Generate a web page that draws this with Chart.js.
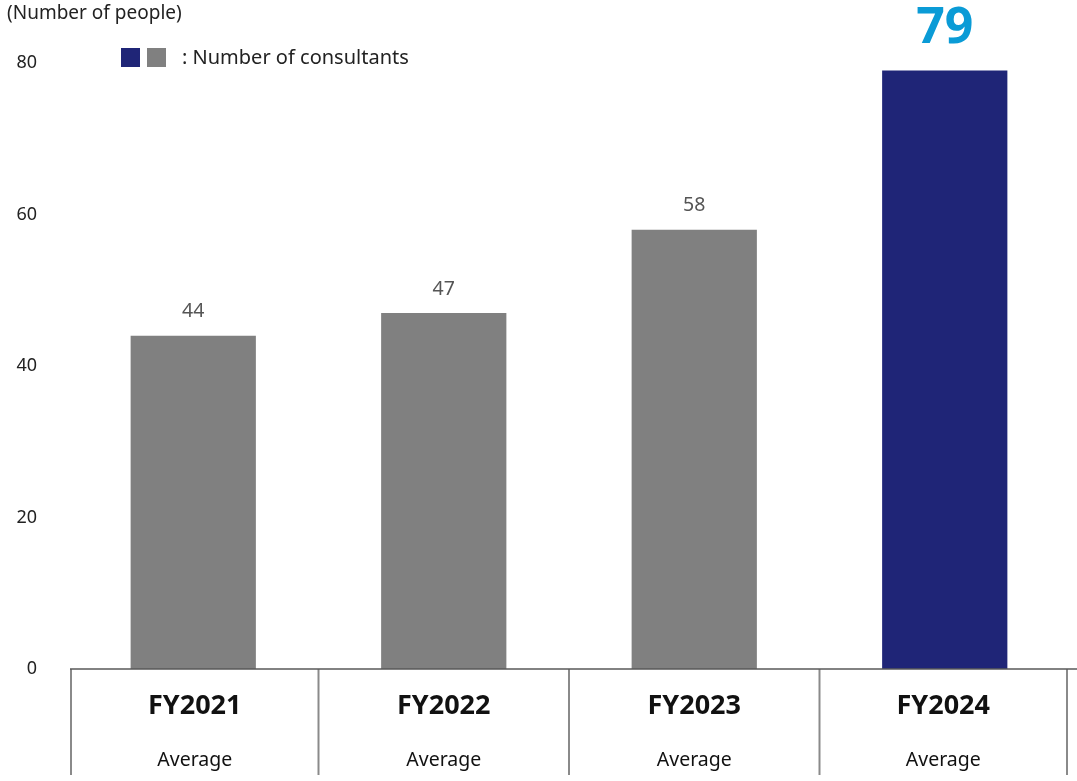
<!DOCTYPE html>
<html>
<head>
<meta charset="utf-8">
<script src="https://cdn.jsdelivr.net/npm/chart.js@4.4.1/dist/chart.umd.min.js"></script>
<style>
    html, body { margin: 0; padding: 0; background: #fff; }
    #wrap { width: 1077px; height: 781px; position: relative; }
</style>
</head>
<body>
<div id="wrap"><canvas id="consultantsChart"></canvas></div>
<script>
const years = ['FY2021', 'FY2022', 'FY2023', 'FY2024'];
const subLabels = ['Average', 'Average', 'Average', 'Average'];
const consultants = [44, 47, 58, 79];
const yTicks = [0, 20, 40, 60, 80];

const FONT = '"Noto Sans", "Open Sans", sans-serif';
const NAVY = '#1f2577';
const GREY = '#808080';
const CYAN = '#0a9bd6';

// table under the bars, value labels, unit caption and legend
const tablePlugin = {
    id: 'tablePlugin',
    afterDatasetsDraw(chart) {
        const ctx = chart.ctx;
        const area = chart.chartArea;
        const x = chart.scales.x;
        const meta = chart.getDatasetMeta(0);
        const tableBottom = 775;
        const tableLeft = area.left + 3;
        const tableRight = area.right - 3;

        ctx.save();

        // value labels
        meta.data.forEach((bar, i) => {
            const last = i === consultants.length - 1;
            ctx.textAlign = 'center';
            ctx.textBaseline = 'middle';
            if (last) {
                ctx.font = 'bold 50px ' + FONT;
                ctx.fillStyle = CYAN;
                ctx.fillText(consultants[i], bar.x, bar.y - 42);
            } else {
                ctx.font = '19.5px ' + FONT;
                ctx.fillStyle = '#555';
                ctx.fillText(consultants[i], bar.x, bar.y - 24);
            }
        });

        // separators
        ctx.strokeStyle = '#8a8a8a';
        ctx.lineWidth = 2;
        const edges = [tableLeft];
        for (let i = 0; i < years.length - 1; i++) {
            edges.push((x.getPixelForValue(i) + x.getPixelForValue(i + 1)) / 2);
        }
        edges.push(tableRight);
        edges.forEach(px => {
            ctx.beginPath();
            ctx.moveTo(px, area.bottom);
            ctx.lineTo(px, tableBottom);
            ctx.stroke();
        });

        // axis line
        ctx.strokeStyle = '#595959';
        ctx.lineWidth = 1.5;
        ctx.beginPath();
        ctx.moveTo(tableLeft - 1, area.bottom);
        ctx.lineTo(chart.width, area.bottom);
        ctx.stroke();

        // category cells
        ctx.fillStyle = '#111';
        years.forEach((label, i) => {
            const cx = (edges[i] + edges[i + 1]) / 2;
            ctx.font = 'bold 27px ' + FONT;
            ctx.fillText(label, cx, 706);
            ctx.font = '19.5px ' + FONT;
            ctx.fillText(subLabels[i], cx, 760);
        });

        // unit caption
        ctx.textAlign = 'left';
        ctx.font = '19px ' + FONT;
        ctx.fillStyle = '#222';
        ctx.fillText('(Number of people)', 7, 14);

        // legend
        ctx.fillStyle = NAVY;
        ctx.fillRect(121, 48, 19, 19);
        ctx.fillStyle = GREY;
        ctx.fillRect(147, 48, 19, 19);
        ctx.fillStyle = '#222';
        ctx.font = '20px ' + FONT;
        ctx.fillText(': Number of consultants', 182, 58);

        ctx.restore();
    }
};

new Chart(document.getElementById('consultantsChart'), {
    type: 'bar',
    data: {
        labels: years,
        datasets: [{
            label: 'Number of consultants',
            data: consultants,
            backgroundColor: consultants.map((v, i) => i === consultants.length - 1 ? NAVY : GREY),
            borderWidth: 0,
            categoryPercentage: 1,
            barPercentage: 0.5
        }]
    },
    options: {
        responsive: true,
        maintainAspectRatio: false,
        animation: false,
        layout: { padding: { top: 63, right: 7, bottom: 112, left: 14 } },
        plugins: {
            legend: { display: false },
            tooltip: { enabled: false }
        },
        scales: {
            x: {
                display: false
            },
            y: {
                min: 0,
                max: 80,
                afterFit: scale => { scale.width = 54; },
                afterBuildTicks: scale => { scale.ticks = yTicks.map(v => ({ value: v })); },
                grid: { display: false, drawTicks: false },
                border: { display: false },
                ticks: {
                    padding: 31,
                    color: '#222',
                    font: { family: FONT, size: 18 }
                }
            }
        }
    },
    plugins: [tablePlugin]
});
</script>
</body>
</html>
